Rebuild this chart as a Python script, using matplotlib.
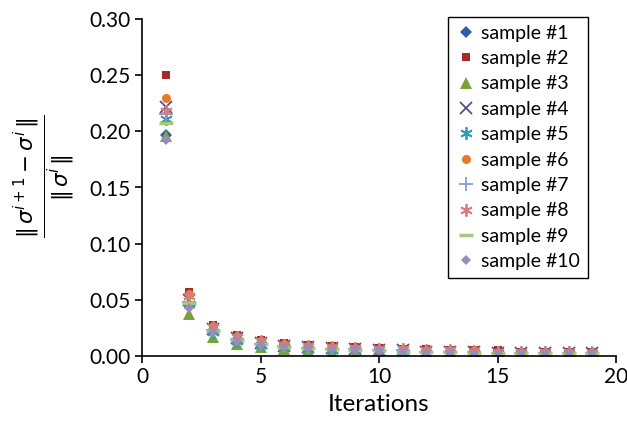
import matplotlib
matplotlib.use('Agg')
import matplotlib.pyplot as plt

# --- data -------------------------------------------------------------------
iterations = list(range(1, 20))

labels = ['sample #1', 'sample #2', 'sample #3', 'sample #4', 'sample #5',
          'sample #6', 'sample #7', 'sample #8', 'sample #9', 'sample #10']

s1 = [0.197, 0.045, 0.022, 0.014, 0.010, 0.008, 0.007, 0.006, 0.005, 0.005,
      0.004, 0.004, 0.004, 0.003, 0.003, 0.003, 0.003, 0.003, 0.003]
s2 = [0.250, 0.057, 0.028, 0.019, 0.014, 0.012, 0.010, 0.009, 0.008, 0.007,
      0.006, 0.006, 0.005, 0.005, 0.005, 0.004, 0.004, 0.004, 0.004]
s3 = [0.196, 0.037, 0.017, 0.011, 0.008, 0.006, 0.005, 0.004, 0.003, 0.003,
      0.003, 0.002, 0.002, 0.002, 0.002, 0.002, 0.002, 0.002, 0.001]
s4 = [0.222, 0.050, 0.024, 0.016, 0.012, 0.009, 0.008, 0.007, 0.006, 0.005,
      0.005, 0.004, 0.004, 0.004, 0.003, 0.003, 0.003, 0.003, 0.003]
s5 = [0.211, 0.046, 0.021, 0.013, 0.010, 0.008, 0.006, 0.005, 0.005, 0.004,
      0.004, 0.003, 0.003, 0.003, 0.003, 0.003, 0.002, 0.002, 0.002]
s6 = [0.230, 0.055, 0.027, 0.018, 0.013, 0.011, 0.009, 0.008, 0.007, 0.006,
      0.006, 0.005, 0.005, 0.005, 0.004, 0.004, 0.004, 0.004, 0.004]
s7 = [0.215, 0.048, 0.023, 0.015, 0.011, 0.009, 0.007, 0.006, 0.006, 0.005,
      0.005, 0.004, 0.004, 0.004, 0.003, 0.003, 0.003, 0.003, 0.003]
s8 = [0.218, 0.053, 0.026, 0.017, 0.013, 0.010, 0.009, 0.008, 0.007, 0.006,
      0.006, 0.005, 0.005, 0.004, 0.004, 0.004, 0.004, 0.004, 0.003]
s9 = [0.207, 0.047, 0.022, 0.014, 0.011, 0.008, 0.007, 0.006, 0.005, 0.005,
      0.004, 0.004, 0.004, 0.003, 0.003, 0.003, 0.003, 0.003, 0.003]
s10 = [0.192, 0.043, 0.021, 0.013, 0.010, 0.008, 0.007, 0.006, 0.005, 0.005,
       0.004, 0.004, 0.004, 0.003, 0.003, 0.003, 0.003, 0.003, 0.003]

series = [s1, s2, s3, s4, s5, s6, s7, s8, s9, s10]

# --- styles (Excel-like markers) -------------------------------------------
styles = [
    dict(marker='D', color='#2F5DA8', ms=6.5, mew=0),
    dict(marker='s', color='#A8292B', ms=6, mew=0),
    dict(marker='^', color='#77A33A', ms=9, mew=0),
    dict(marker='x', color='#5D4A8F', ms=8, mew=1.3),
    dict(marker=(6, 2, 0), color='#2E9DB5', ms=9, mew=1.3),
    dict(marker='o', color='#E8782A', ms=6.5, mew=0),
    dict(marker='+', color='#7F9FD6', ms=10, mew=1.3),
    dict(marker=(6, 2, 0), color='#D47F7C', ms=9, mew=1.3),
    dict(marker='_', color='#A9C97A', ms=10, mew=2.5),
    dict(marker='D', color='#9B8BBB', ms=5, mew=0),
]

plt.rcParams['font.family'] = ['Lato', 'DejaVu Sans']

fig = plt.figure(figsize=(6.27, 4.21), dpi=100)
ax = fig.add_axes([142 / 627, 1 - 356 / 421, 474 / 627, 337 / 421])

for vals, lab, st in zip(series, labels, styles):
    ax.plot(iterations, vals, linestyle='none', label=lab,
            marker=st['marker'], color=st['color'], markersize=st['ms'],
            markeredgewidth=st['mew'], markeredgecolor=st['color'])

ax.set_xlim(0, 20)
ax.set_ylim(0, 0.30)
ax.set_xticks([0, 5, 10, 15, 20])
ax.set_yticks([0, 0.05, 0.10, 0.15, 0.20, 0.25, 0.30])
ax.yaxis.set_major_formatter(matplotlib.ticker.FormatStrFormatter('%.2f'))

for side in ('top', 'right'):
    ax.spines[side].set_visible(False)
for side in ('left', 'bottom'):
    ax.spines[side].set_linewidth(1.2)
ax.tick_params(axis='both', direction='out', length=5, width=1.2,
               labelsize=15, pad=3)

ax.set_xlabel('Iterations', fontsize=17.5, labelpad=5)

fig.text(44 / 627, 1 - 176 / 421,
         r'$\frac{\Vert\,\sigma^{i+1}-\sigma^{i}\,\Vert}{\Vert\,\sigma^{i}\,\Vert}$',
         rotation=90, ha='center', va='center', fontsize=22)

leg = ax.legend(loc='upper left', bbox_to_anchor=(448 / 627, 1 - 17 / 421),
                bbox_transform=fig.transFigure, fontsize=14,
                frameon=True, fancybox=False, framealpha=1,
                edgecolor='black', handlelength=1.0, handletextpad=0.3,
                labelspacing=0.43, borderpad=0.4, borderaxespad=0)
leg.get_frame().set_linewidth(1.0)

plt.savefig('out.png', dpi=100, facecolor='white')
